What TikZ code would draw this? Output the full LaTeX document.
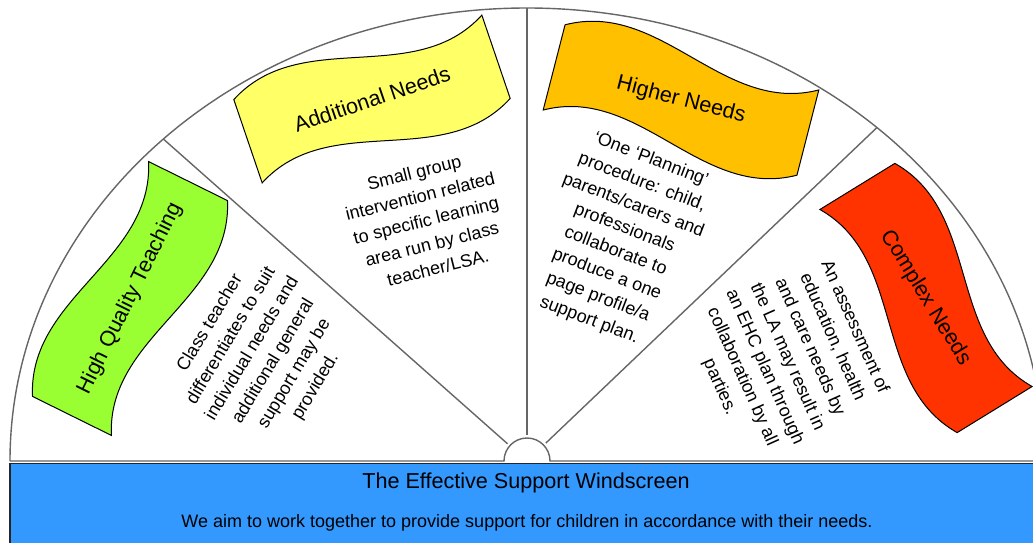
\documentclass[tikz,border=0pt]{standalone}
\usepackage{fontspec}
\setmainfont{Liberation Sans}
\definecolor{hqtgreen}{RGB}{153,255,51}
\definecolor{addyellow}{RGB}{255,255,102}
\definecolor{highorange}{RGB}{255,192,0}
\definecolor{complexred}{RGB}{255,51,0}
\definecolor{screenblue}{RGB}{51,153,255}
\begin{document}
\begin{tikzpicture}[x=0.5pt,y=0.5pt,
  rim/.style={draw=black!60, line width=0.7pt},
  flag/.style={draw=black, line width=0.5pt},
  title/.style={font=\fontsize{10.8}{13}\selectfont, inner sep=0pt},
  body/.style={align=center, font=\fontsize{9}{12.3}\selectfont, inner sep=0pt}]
\useasboundingbox (0,0) rectangle (1033,542);
\clip (0,0) rectangle (1033,542);

\coordinate (o) at (527,81);

% windscreen
\draw[rim, fill=white] (10,81) -- (504,81) arc[start angle=180, end angle=0, radius=23]
  -- (1044,81) arc[start angle=0, end angle=180, x radius=517, y radius=453];

\begin{scope}[shift={(o)}]
\draw[rim] (138.5:26) -- (134.7:517 and 453);
\draw[rim] (90:26) -- (90:453);
\draw[rim] (43.6:26) -- (47.4:517 and 453);
\end{scope}

% flags
\begin{scope}[shift={(130,243.5)},rotate=63.7]
\coordinate (a) at (-131,44);
\coordinate (b) at (131,44);
\coordinate (c) at (131,-44);
\coordinate (d) at (-131,-44);
\draw[flag, fill=hqtgreen] (a) .. controls +(87,48) and +(-87,-48) .. (b) -- (c)
  .. controls +(-87,-48) and +(87,48) .. (d) -- cycle;
\node[title, rotate=63.7] (hqt) at (0,0) {High Quality Teaching};
\end{scope}

\begin{scope}[shift={(372,443)},rotate=18.8]
\coordinate (a) at (-131,44);
\coordinate (b) at (131,44);
\coordinate (c) at (131,-44);
\coordinate (d) at (-131,-44);
\draw[flag, fill=addyellow] (a) .. controls +(87,48) and +(-87,-48) .. (b) -- (c)
  .. controls +(-87,-48) and +(87,48) .. (d) -- cycle;
\node[title, rotate=18.8] (add) at (0,0) {Additional Needs};
\end{scope}

\begin{scope}[shift={(681,442)},rotate=-14.4]
\coordinate (a) at (-131,44);
\coordinate (b) at (131,44);
\coordinate (c) at (131,-44);
\coordinate (d) at (-131,-44);
\draw[flag, fill=highorange] (a) .. controls +(87,48) and +(-87,-48) .. (b) -- (c)
  .. controls +(-87,-48) and +(87,48) .. (d) -- cycle;
\node[title, rotate=-14.4] (high) at (0,0) {Higher Needs};
\end{scope}

\begin{scope}[shift={(926,244)},rotate=-58.4]
\coordinate (a) at (-131,44);
\coordinate (b) at (131,44);
\coordinate (c) at (131,-44);
\coordinate (d) at (-131,-44);
\draw[flag, fill=complexred] (a) .. controls +(87,48) and +(-87,-48) .. (b) -- (c)
  .. controls +(-87,-48) and +(87,48) .. (d) -- cycle;
\node[title, rotate=-58.4] (complex) at (0,0) {Complex Needs};
\end{scope}

% descriptions
\node[body, rotate=59] (hqttext) at (263,187)
  {Class teacher\\differentiates to suit\\individual needs and\\additional general\\support may be\\provided.};
\node[body, rotate=14] (addtext) at (426,322)
  {Small group\\intervention related\\to specific learning\\area run by class\\teacher/LSA.};
\node[body, rotate=-21] (hightext) at (620,302)
  {‘One ‘Planning’\\procedure: child,\\parents/carers and\\professionals\\collaborate to\\produce a one\\page profile/a\\support plan.};
\node[body, rotate=-66] (complextext) at (787,185)
  {An assessment of\\education, health\\and care needs by\\the LA may result in\\an EHC plan through\\collaboration by all\\parties.};

% caption box
\draw[draw=black!85, line width=0.6pt, fill=screenblue] (10,-10) rectangle (1045,78.7);
\node[title] (caption) at (526,59) {The Effective Support Windscreen};
\node[body] (aim) at (527,19) {We aim to work together to provide support for children in accordance with their needs.};
\end{tikzpicture}
\end{document}
